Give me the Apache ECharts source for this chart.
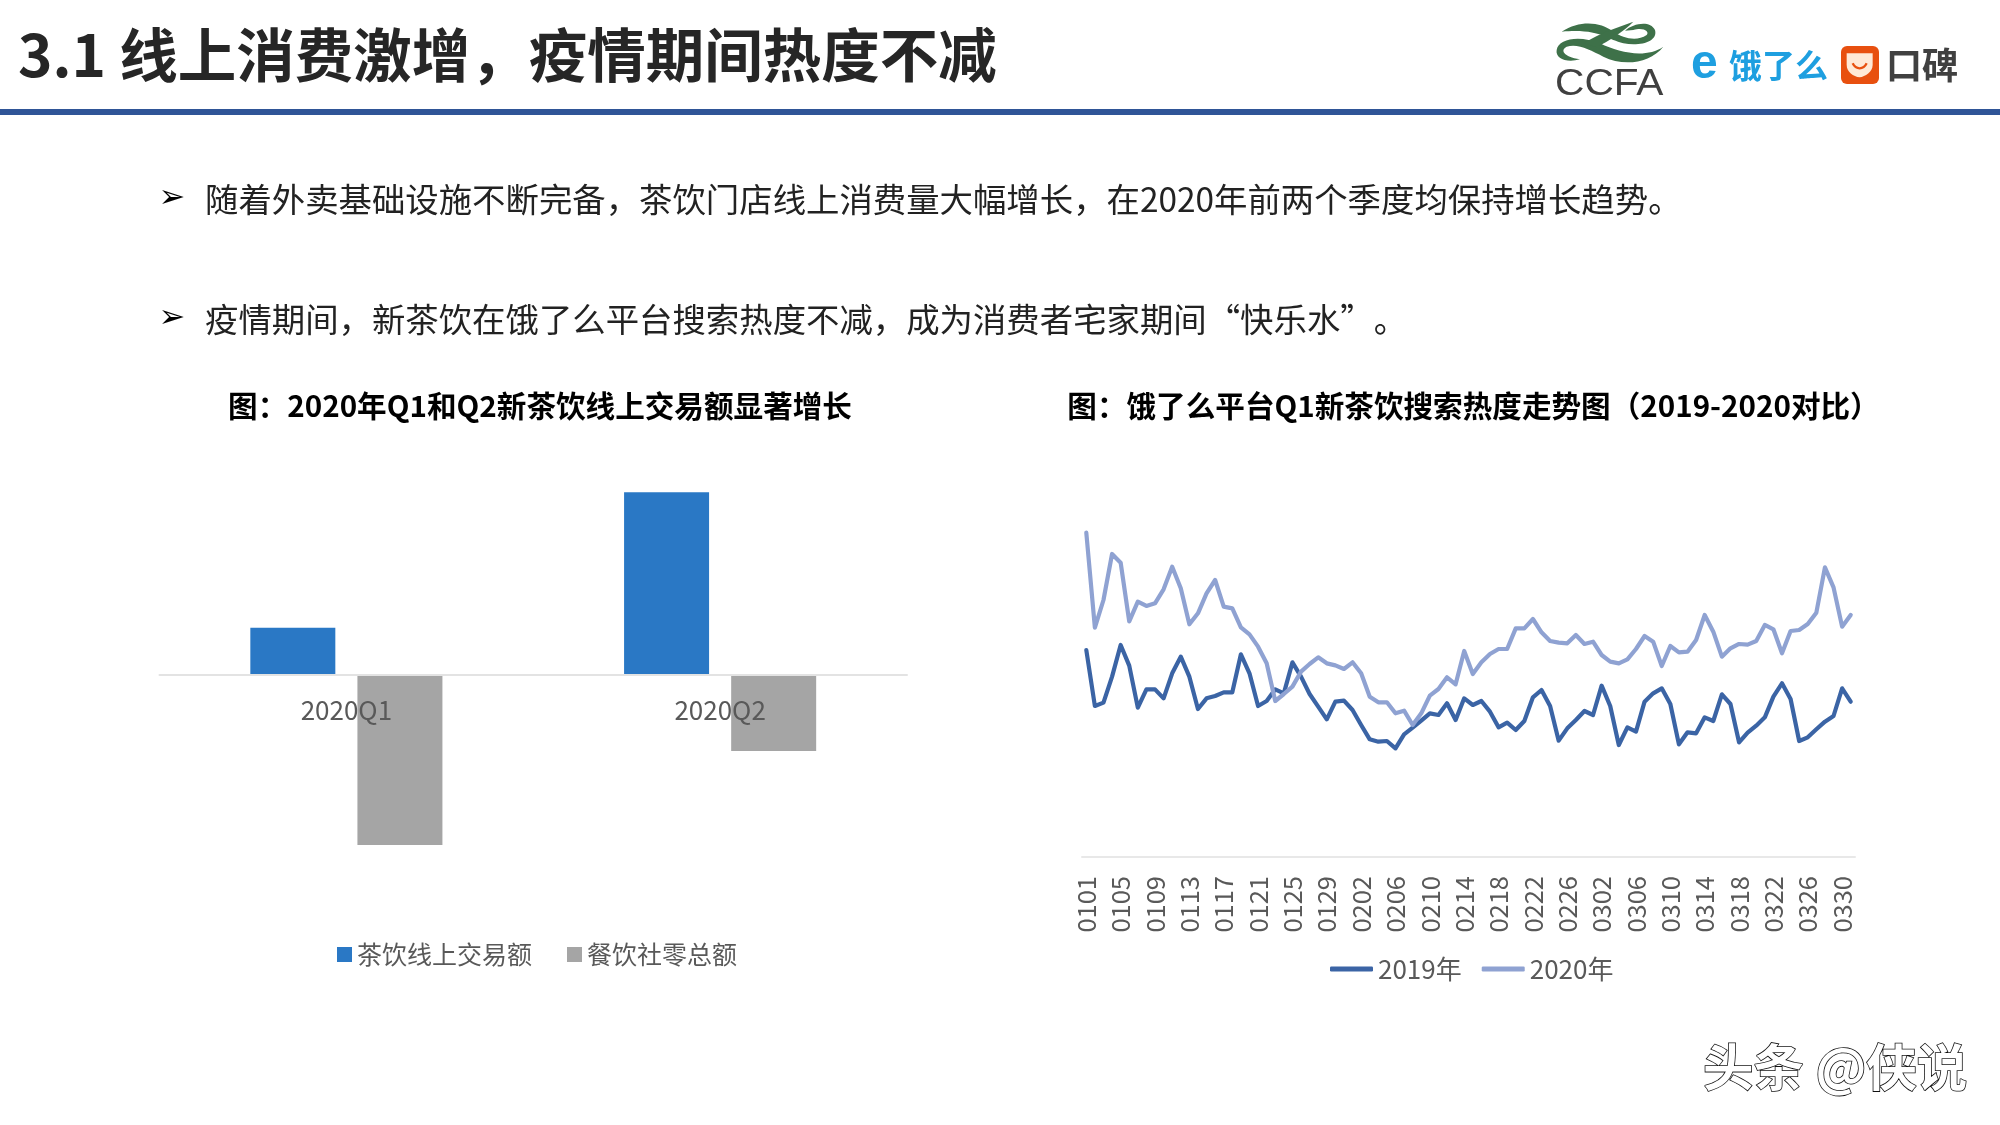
<!DOCTYPE html>
<html><head><meta charset="utf-8">
<style>html,body{margin:0;padding:0;background:#fff}#c{width:2000px;height:1125px}</style>
<script src="https://cdn.jsdelivr.net/npm/echarts@6/dist/echarts.min.js"></script>
</head><body><div id="c"></div>
<script>
const CJK = '"Noto Sans CJK SC","Noto Sans",sans-serif';
const quarters = ['2020Q1','2020Q2'];
const teaOnline = [12.3, 47.6];
const foodRetail = [-44.3, -19.8];
const days = ['0101','0102','0103','0104','0105','0106','0107','0108','0109','0110','0111','0112','0113','0114','0115','0116','0117','0118','0119','0120','0121','0122','0123','0124','0125','0126','0127','0128','0129','0130','0131',
'0201','0202','0203','0204','0205','0206','0207','0208','0209','0210','0211','0212','0213','0214','0215','0216','0217','0218','0219','0220','0221','0222','0223','0224','0225','0226','0227','0228',
'0301','0302','0303','0304','0305','0306','0307','0308','0309','0310','0311','0312','0313','0314','0315','0316','0317','0318','0319','0320','0321','0322','0323','0324','0325','0326','0327','0328','0329','0330','0331'];
const heat2019 = [62.1,45.3,46.3,54.1,63.6,57.4,44.8,50.3,50.3,47.6,55.1,60.1,54.1,44.4,47.6,48.3,49.4,49.4,60.8,55.1,45.3,46.8,50.3,49.1,58.4,54.1,48.9,45.1,41.3,46.6,46.9,44.1,39.6,35.3,34.6,34.8,32.6,36.8,38.8,40.9,43.1,42.6,46.1,41.1,47.6,45.6,46.8,43.6,38.9,40.3,
38.1,40.8,47.9,50.1,45.3,34.9,38.6,41.1,43.8,42.6,51.4,45.3,33.6,38.9,37.6,46.6,49.1,50.6,45.9,33.8,37.4,37.1,41.9,40.8,48.8,45.9,34.4,37.3,39.4,41.9,48.1,52.1,47.4,34.8,35.9,38.3,40.6,42.3,50.6,46.6];
const heat2020 = [97.3,68.8,77.1,90.9,88.3,70.7,76.6,75.3,76.1,80.3,87.1,80.6,69.8,73.1,79.1,83.1,75.1,74.6,68.9,66.8,63.1,58.1,46.8,48.9,51.1,55.6,57.9,59.9,58.1,57.5,56.4,58.4,55.1,48.1,46.4,46.4,43.1,43.9,39.6,43.1,48.4,50.4,53.9,51.8,61.8,54.9,58.4,60.9,62.4,62.4,
68.6,68.6,71.4,67.4,64.8,64.3,64.1,66.6,63.9,64.6,60.6,58.6,58.1,59.3,62.4,66.3,64.6,57.3,63.3,61.4,61.6,65.1,72.6,67.6,60.1,62.6,63.9,63.7,64.8,69.6,68.3,61.1,67.8,68.1,69.9,73.3,86.9,80.9,69.1,72.6];
const pageTitle = '3.1 线上消费激增，疫情期间热度不减';
const bullets = ['随着外卖基础设施不断完备，茶饮门店线上消费量大幅增长，在2020年前两个季度均保持增长趋势。','疫情期间，新茶饮在饿了么平台搜索热度不减，成为消费者宅家期间“快乐水”。'];
const leftTitle = '图：2020年Q1和Q2新茶饮线上交易额显著增长';
const rightTitle = '图：饿了么平台Q1新茶饮搜索热度走势图（2019-2020对比）';

function txt(x,y,text,size,color,weight,family,align){
  return {type:'text',x:x,y:y,silent:true,style:{text:text,fontSize:size,fill:color,fontWeight:weight||'normal',fontFamily:family||CJK,align:align||'left',verticalAlign:'middle'}};
}
const logoPaths = {
  ccfa1:'M185 95 C240 60 300 65 340 95 C370 115 410 125 440 105 C450 95 430 80 400 90 L375 92 C400 70 450 60 465 90 C475 125 420 140 370 130 C320 118 300 85 185 95 Z',
  ccfa2:'M490 140 C450 190 370 200 310 170 C270 150 235 130 200 140 C180 150 190 170 240 178 C200 190 165 175 170 150 C175 115 240 105 300 130 C360 160 440 175 490 140 Z',
  ccfa3:'M250 130 C290 105 330 90 400 65 C370 95 330 120 290 142 Z',
  pocket:'M1040 160 L1118 160 L1118 195 C1118 215 1095 230 1079 232 C1060 230 1040 215 1040 195 Z',
  smile:'M1058 190 C1068 210 1090 210 1100 190'
};
Object.keys(logoPaths).forEach(function(k){
  echarts.graphic.registerShape(k, echarts.graphic.extendPath(logoPaths[k], {}));
});
function logo(k,style){ return {type:k,x:1500,y:0,scaleX:1/3,scaleY:1/3,silent:true,style:style}; }
const chart = echarts.init(document.getElementById('c'),null,{renderer:'canvas',width:2000,height:1125});
chart.setOption({
  animation:false,
  backgroundColor:'#ffffff',
  title:[
    {text:leftTitle,left:535,top:401,textAlign:'center',textVerticalAlign:'middle',textStyle:{fontFamily:CJK,fontSize:29.6,fontWeight:'bold',color:'#000'}},
    {text:rightTitle,left:1468.5,top:401,textAlign:'center',textVerticalAlign:'middle',textStyle:{fontFamily:CJK,fontSize:29.6,fontWeight:'bold',color:'#000'}}
  ],
  legend:[
    {data:['茶饮线上交易额','餐饮社零总额'],left:337,top:942,icon:'rect',itemWidth:15,itemHeight:15,itemGap:35,padding:0,textStyle:{fontFamily:CJK,fontSize:25,color:'#595959'}},
    {data:['2019年','2020年'],left:1330,top:956,icon:'roundRect',itemWidth:43,itemHeight:5,itemGap:20,padding:0,textStyle:{fontFamily:CJK,fontSize:26,color:'#595959'}}
  ],
  grid:[
    {left:159.5,width:747.5,top:444.6,height:460.8},
    {left:1082,width:773,top:490.33,height:366.67}
  ],
  xAxis:[
    {type:'category',gridIndex:0,data:quarters,z:10,position:'bottom',offset:-230.4,axisLine:{onZero:false,lineStyle:{color:'#E3E3E3',width:2}},axisTick:{show:false},axisLabel:{fontFamily:CJK,fontSize:26,color:'#595959',margin:22}},
    {type:'category',gridIndex:1,data:days,axisLine:{lineStyle:{color:'#E8E8E8',width:2}},axisTick:{show:false},axisLabel:{interval:3,rotate:90,fontFamily:CJK,fontSize:25.5,color:'#595959',margin:19}}
  ],
  yAxis:[
    {type:'value',gridIndex:0,min:-60,max:60,show:false,splitLine:{show:false}},
    {type:'value',gridIndex:1,min:0,max:110,show:false,splitLine:{show:false}}
  ],
  series:[
    {name:'茶饮线上交易额',type:'bar',xAxisIndex:0,yAxisIndex:0,data:teaOnline,barWidth:85,barGap:'26%',itemStyle:{color:'#2A78C5'}},
    {name:'餐饮社零总额',type:'bar',xAxisIndex:0,yAxisIndex:0,data:foodRetail,barWidth:85,barGap:'26%',itemStyle:{color:'#A5A5A5'}},
    {name:'2019年',type:'line',xAxisIndex:1,yAxisIndex:1,data:heat2019,symbol:'none',showSymbol:false,lineStyle:{color:'#3B64A5',width:4.2,cap:'round',join:'round'},itemStyle:{color:'#3B64A5'}},
    {name:'2020年',type:'line',xAxisIndex:1,yAxisIndex:1,data:heat2020,symbol:'none',showSymbol:false,lineStyle:{color:'#8FA2D2',width:4.2,cap:'round',join:'round'},itemStyle:{color:'#8FA2D2'}}
  ],
  graphic:{elements:[
    txt(18,55,pageTitle,58.5,'#262626','bold'),
    {type:'rect',shape:{x:0,y:109,width:2000,height:6},style:{fill:'#2F5597'},silent:true},
    {type:'text',x:172,y:199,silent:true,style:{text:'➢',fontSize:32,fill:'#000',fontFamily:'"DejaVu Sans"',align:'center',verticalAlign:'middle'}},
    {type:'text',x:172,y:319,silent:true,style:{text:'➢',fontSize:32,fill:'#000',fontFamily:'"DejaVu Sans"',align:'center',verticalAlign:'middle'}},
    txt(205,199,bullets[0],33.4,'#222222'),
    txt(205,319,bullets[1],33.4,'#222222'),
    logo('ccfa1',{fill:'#3E7149'}),
    logo('ccfa2',{fill:'#3E7149'}),
    logo('ccfa3',{fill:'#3E7149'}),
    Object.assign(txt(1555,85,'CCFA',36,'#404040','normal','"Liberation Sans"'),{scaleX:1.13}),
    txt(1691,65,'e',48,'#1E9FE0','bold','"Liberation Sans"'),
    txt(1729,65,'饿了么',33,'#1E9FE0','bold'),
    {type:'rect',shape:{x:1841,y:46,width:38,height:38,r:6},style:{fill:'#E8500F'},silent:true},
    logo('pocket',{fill:'#FFE9D6'}),
    logo('smile',{fill:'none',stroke:'#E8500F',lineWidth:7}),
    txt(1886,65,'口碑',36,'#404040','bold'),
    {type:'text',x:1703,y:1067,silent:true,style:{text:'头条 @侠说',fontSize:50.5,fill:'#ffffff',stroke:'#111',lineWidth:1.6,fontFamily:CJK,fontWeight:'bold',align:'left',verticalAlign:'middle'}}
  ]}
});
</script></body></html>
